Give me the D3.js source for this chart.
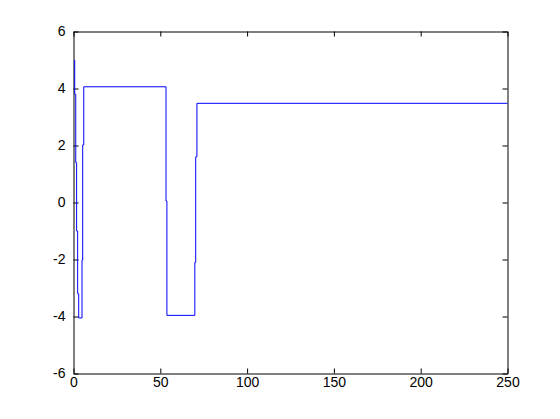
<!DOCTYPE html>
<html>
<head>
<meta charset="utf-8">
<script src="https://cdn.jsdelivr.net/npm/d3@7"></script>
<style>
  html, body { margin: 0; padding: 0; background: #ffffff; }
  svg { display: block; }
  text { font-family: "Liberation Sans", Arial, Helvetica, sans-serif; }
</style>
</head>
<body>
<div id="chart"></div>
<script>
// ---- data ----
// vertices of the staircase signal: at each x the line jumps vertically
// from the previous level to the next, then runs flat to the next x
const stepX = [0.7, 1.3, 1.8, 2.4, 3.0, 4.9, 5.3, 5.9, 53.3, 53.8, 69.9, 70.4, 71.1, 250];
const stepY = [5.0, 3.8, 1.4, -1.0, -3.2, -4.05, -2.02, 2.02, 4.06, 0.05, -3.96, -2.1, 1.6, 3.48];

const xDomain = [0, 250];
const yDomain = [-6, 6];
const xTicks = [0, 50, 100, 150, 200, 250];
const xTickLabels = ["0", "50", "100", "150", "200", "250"];
const yTicks = [-6, -4, -2, 0, 2, 4, 6];
const yTickLabels = ["-6", "-4", "-2", "0", "2", "4", "6"];

// ---- layout ----
const W = 560, H = 419;
const plotL = 73.5, plotR = 507.5, plotT = 31.5, plotB = 373.5;

const svg = d3.select("#chart").append("svg")
  .attr("width", W).attr("height", H);

svg.append("rect").attr("width", W).attr("height", H).attr("fill", "#ffffff");

const x = d3.scaleLinear().domain(xDomain).range([plotL, plotR]);
const y = d3.scaleLinear().domain(yDomain).range([plotB, plotT]);

const fontSize = "14px";
const tickLen = 5;

function styleAxis(g) {
  g.select(".domain").attr("stroke", "#000").attr("stroke-width", 1);
  g.selectAll(".tick line").attr("stroke", "#000").attr("stroke-width", 1);
  g.selectAll(".tick text").attr("fill", "#000")
    .style("font-size", fontSize)
    .style("font-family", '"Liberation Sans", Arial, Helvetica, sans-serif');
}

// bottom axis (labels)
svg.append("g").attr("transform", `translate(0,${plotB})`)
  .call(d3.axisBottom(x).tickValues(xTicks)
    .tickFormat((d, i) => xTickLabels[i])
    .tickSizeInner(-tickLen).tickSizeOuter(0).tickPadding(4))
  .call(styleAxis);

// top axis (no labels)
svg.append("g").attr("transform", `translate(0,${plotT})`)
  .call(d3.axisTop(x).tickValues(xTicks).tickFormat("")
    .tickSizeInner(-tickLen).tickSizeOuter(0))
  .call(styleAxis);

// left axis (labels)
svg.append("g").attr("transform", `translate(${plotL},0)`)
  .call(d3.axisLeft(y).tickValues(yTicks)
    .tickFormat((d, i) => yTickLabels[i])
    .tickSizeInner(-tickLen).tickSizeOuter(0).tickPadding(8))
  .call(styleAxis);

// right axis (no labels)
svg.append("g").attr("transform", `translate(${plotR},0)`)
  .call(d3.axisRight(y).tickValues(yTicks).tickFormat("")
    .tickSizeInner(-tickLen).tickSizeOuter(0))
  .call(styleAxis);

// ---- signal ----
const pts = stepX.map((d, i) => [d, stepY[i]]);
const line = d3.line()
  .x(d => x(d[0]))
  .y(d => y(d[1]))
  .curve(d3.curveStepBefore);

svg.append("path")
  .datum(pts)
  .attr("fill", "none")
  .attr("stroke", "#0000ff")
  .attr("stroke-width", 1)
  .attr("d", line);
</script>
</body>
</html>
